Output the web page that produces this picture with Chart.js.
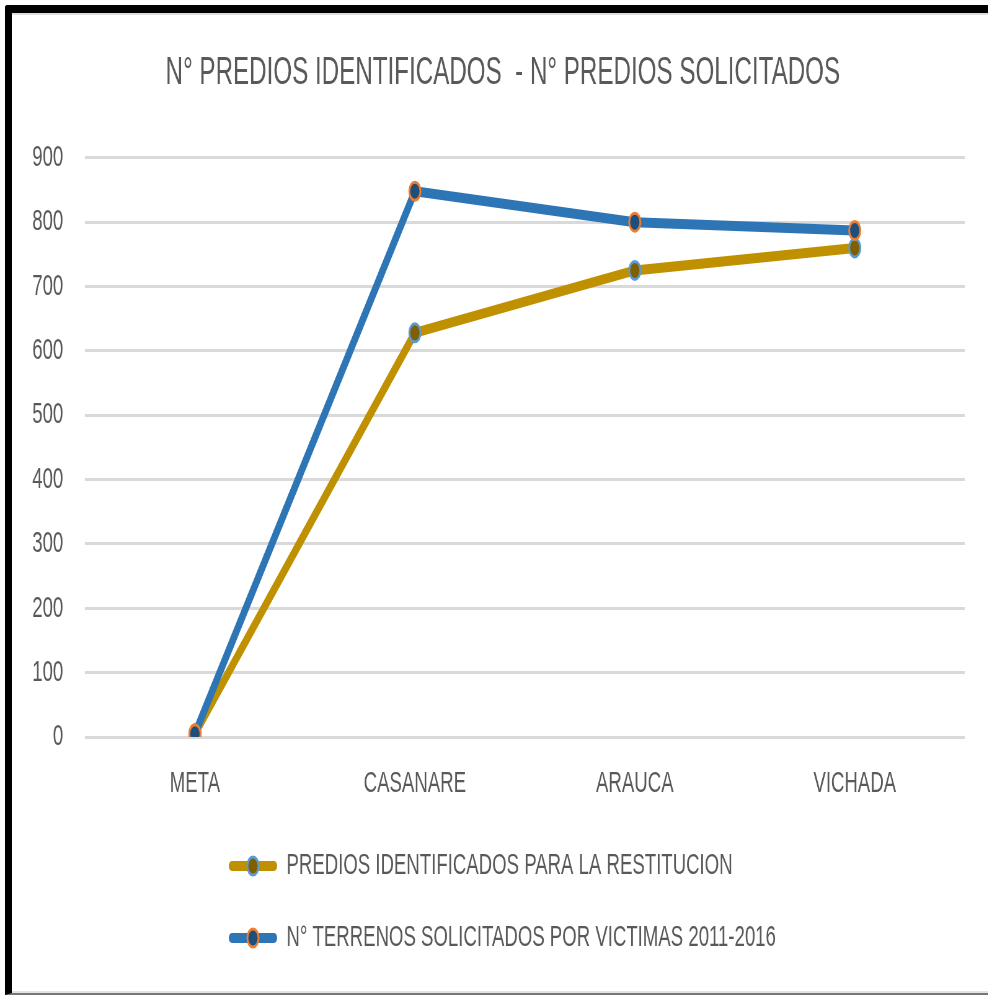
<!DOCTYPE html>
<html lang="es">
<head>
    <meta charset="UTF-8">
    <title>N° Predios identificados - N° Predios solicitados</title>
    <script src="https://cdn.jsdelivr.net/npm/chart.js"></script>
    <style>
        html, body { margin: 0; padding: 0; background: #fff; overflow: hidden; }
        body { width: 988px; height: 996px; position: relative; }
        /* el grafico original esta comprimido en horizontal */
        #lienzo { position: absolute; left: 0; top: 0; width: 1594px; height: 996px;
                  transform: scaleX(0.62); transform-origin: 0 0; }
        #marco { position: absolute; left: 5px; top: 5px; width: 1000px; height: 990px;
                 box-sizing: border-box; border-top: 8px solid #000; border-left: 7px solid #000;
                 border-bottom: 2px solid #777; border-top-left-radius: 3px;
                 box-shadow: inset 0 2px 0 #dedede, inset 0 -2px 0 #e4e4e4; pointer-events: none; }
    </style>
</head>
<body>
    <div id="lienzo"><canvas id="grafico"></canvas></div>
    <div id="marco"></div>

    <script>
        // Datos
        const categorias = ['META', 'CASANARE', 'ARAUCA', 'VICHADA'];
        const prediosIdentificados = [5, 628, 725, 760];
        const terrenosSolicitados = [5, 848, 800, 787];
        const nombres = ['PREDIOS IDENTIFICADOS PARA LA RESTITUCION', 'N° TERRENOS SOLICITADOS POR VICTIMAS 2011-2016'];
        const yMin = 0, yMax = 900, yPaso = 100;

        const fuente = "'Liberation Sans', Arial, sans-serif";
        const gris = '#595959';
        const colores = [
            { linea: '#BF9000', relleno: '#7F6000', borde: '#5B9BD5' },
            { linea: '#2E75B6', relleno: '#1F4E79', borde: '#ED7D31' }
        ];

        // icono de leyenda: linea con marcador
        function icono(c) {
            const cv = document.createElement('canvas');
            cv.width = 78; cv.height = 26;
            const ctx = cv.getContext('2d');
            ctx.strokeStyle = c.linea; ctx.lineWidth = 10; ctx.lineCap = 'round';
            ctx.beginPath(); ctx.moveTo(5, 13); ctx.lineTo(73, 13); ctx.stroke();
            ctx.beginPath(); ctx.arc(39, 13, 9, 0, Math.PI * 2);
            ctx.fillStyle = c.relleno; ctx.fill();
            ctx.lineWidth = 3; ctx.strokeStyle = c.borde; ctx.stroke();
            return cv;
        }
        const iconos = colores.map(icono);

        // mover titulo y leyenda a su sitio
        const ajuste = {
            id: 'ajuste',
            afterLayout(chart) {
                const t = chart.titleBlock;
                t.left += 33; t.right += 33;
                const l = chart.legend;
                const dx = 369 - 42 - l.left;
                l.left += dx; l.right += dx;
                l.top -= 14; l.bottom -= 14;
            }
        };

        const serie = (i, datos) => ({
            label: nombres[i],
            data: datos,
            borderColor: colores[i].linea,
            backgroundColor: colores[i].linea,
            borderWidth: 10,
            pointRadius: 9,
            pointBorderWidth: 3,
            pointBackgroundColor: colores[i].relleno,
            pointBorderColor: colores[i].borde,
            tension: 0,
            order: i === 0 ? 1 : 0
        });

        new Chart(document.getElementById('grafico'), {
            type: 'line',
            data: {
                labels: categorias,
                datasets: [serie(0, prediosIdentificados), serie(1, terrenosSolicitados)]
            },
            options: {
                responsive: true,
                maintainAspectRatio: false,
                animation: false,
                layout: { padding: { top: 0, left: 0, right: 38, bottom: 19 } },
                scales: {
                    x: {
                        offset: true,
                        grid: { display: false },
                        border: { display: false },
                        ticks: { color: gris, font: { family: fuente, size: 30 }, padding: 21 }
                    },
                    y: {
                        min: yMin, max: yMax,
                        afterFit(s) { s.width = 137; },
                        grid: { color: '#D9D9D9', lineWidth: 3, drawTicks: false },
                        border: { display: false },
                        ticks: { stepSize: yPaso, color: gris, font: { family: fuente, size: 30 }, padding: 35 }
                    }
                },
                plugins: {
                    title: {
                        display: true,
                        text: 'N° PREDIOS IDENTIFICADOS  - N° PREDIOS SOLICITADOS',
                        color: gris,
                        font: { family: fuente, size: 39, weight: 'normal' },
                        padding: { top: 50, bottom: 61 }
                    },
                    legend: {
                        position: 'bottom',
                        align: 'start',
                        labels: {
                            color: gris,
                            font: { family: fuente, size: 30 },
                            padding: 42,
                            usePointStyle: true,
                            pointStyleWidth: 78,
                            generateLabels(chart) {
                                return Chart.defaults.plugins.legend.labels.generateLabels(chart)
                                    .map(it => Object.assign(it, { pointStyle: iconos[it.datasetIndex] }))
                                    .sort((a, b) => a.datasetIndex - b.datasetIndex);
                            }
                        }
                    },
                    tooltip: { enabled: false }
                }
            },
            plugins: [ajuste]
        });
    </script>
</body>
</html>
